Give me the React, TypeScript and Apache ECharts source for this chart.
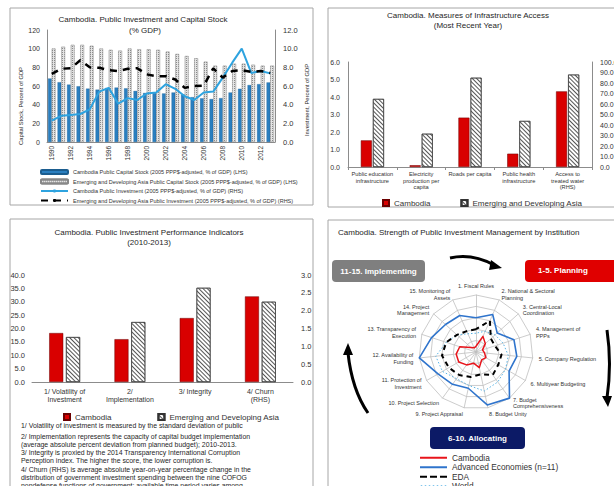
import { useEffect, useRef } from 'react';
import * as echarts from 'echarts';

const FONT = '"Liberation Sans", Arial, sans-serif';

// ---------- Panel 1: Public Investment and Capital Stock ----------
const years = ['1990', '1991', '1992', '1993', '1994', '1995', '1996', '1997', '1998', '1999', '2000', '2001',
  '2002', '2003', '2004', '2005', '2006', '2007', '2008', '2009', '2010', '2011', '2012', '2013'];
const cambodiaCapitalStock = [68.0, 64.0, 61.5, 59.7, 57.2, 56.1, 57.9, 58.3, 57.5, 54.7, 52.5, 52.5,
  52.0, 53.0, 51.0, 48.0, 46.8, 46.0, 47.0, 53.0, 57.0, 61.0, 62.0, 63.8];
const edaCapitalStock = [100, 102, 104, 104, 103, 100, 98.6, 97.8, 100, 99.3, 99.3, 98.6,
  96.8, 94.2, 92.0, 89.6, 86.0, 81.7, 81.7, 83.8, 83.8, 82.7, 81.7, 81.7];
const cambodiaInvestment = [2.3, 2.8, 2.9, 3.0, 3.5, 5.4, 5.8, 4.1, 4.7, 4.5, 5.2, 5.3,
  6.2, 5.7, 4.9, 4.5, 5.3, 5.4, 6.9, 8.5, 10.0, 7.4, 7.6, 7.35];
const edaInvestment = [7.3, 7.85, 7.9, 8.75, 8.0, 7.95, 7.7, 7.6, 7.85, 7.9, 7.25, 7.05,
  7.05, 6.7, 5.8, 6.0, 6.05, 7.9, 6.9, 7.6, 7.7, 7.5, 7.6, 7.4];
const panel1Legend = [
  'Cambodia Public Capital Stock (2005 PPP$-adjusted, % of GDP) (LHS)',
  'Emerging and Developing Asia Public Capital Stock (2005 PPP$-adjusted, % of GDP) (LHS)',
  'Cambodia Public Investment (2005 PPP$-adjusted, % of GDP) (RHS)',
  'Emerging and Developing Asia Public Investment (2005 PPP$-adjusted, % of GDP) (RHS)',
];

// ---------- Panel 2: Measures of Infrastructure Access ----------
const infraCategories = ['Public education\ninfrastructure', 'Electricity\nproduction per\ncapita', 'Roads per capita',
  'Public health\ninfrastructure', 'Access to\ntreated water\n(RHS)'];
const infraCambodiaLHS = [1.52, 0.1, 2.82, 0.76, null];
const infraEdaLHS = [3.89, 1.9, 5.1, 2.63, null];
const infraCambodiaRHS = [null, null, null, null, 72];
const infraEdaRHS = [null, null, null, null, 88];

// ---------- Panel 3: Public Investment Performance Indicators ----------
const perfCategories = ['1/ Volatility of\nInvestment', '2/\nImplementation', '3/ Integrity', '4/ Churn\n(RHS)'];
const perfCambodiaLHS = [18.3, 16.0, 23.9, null];
const perfEdaLHS = [16.8, 22.4, 35.2, null];
const perfCambodiaRHS = [null, null, null, 2.4];
const perfEdaRHS = [null, null, null, 2.25];
const perfNotes = [
  '1/ Volatility of investment is measured by the standard deviation of public',
  '2/ Implementation represents the capacity of capital budget implementation',
  '(average absolute percent deviation from planned budget); 2010-2013.',
  '3/ Integrity is proxied by the 2014 Transparency International Corruption',
  'Perception index. The higher the score, the lower corruption is.',
  '4/ Churn (RHS) is average absolute year-on-year percentage change in the',
  'distribution of government investment spending between the nine COFOG',
  'nondefense functions of government; available time period varies among',
];

// ---------- Panel 4: PIM strength by institution ----------
const pimaLabels = [
  '1. Fiscal Rules',
  '2. National & Sectoral\nPlanning',
  '3. Central-Local\nCoordination',
  '4. Management of\nPPPs',
  '5. Company Regulation',
  '6. Multiyear Budgeting',
  '7. Budget\nComprehensiveness',
  '8. Budget Unity',
  '9. Project Appraisal',
  '10. Project Selection',
  '11. Protection of\nInvestment',
  '12. Availability of\nFunding',
  '13. Transparency of\nExecution',
  '14. Project\nManagement',
  '15. Monitoring of\nAssets',
];
const pimaCambodia = [0.1, 0.3, 0.22, 0.12, 0.15, 0.2, 0.17, 0.28, 0.2, 0.28, 0.35, 0.35, 0.3, 0.12, 0.08];
const pimaAdvanced = [0.6, 0.72, 0.5, 0.7, 0.72, 0.67, 1.0, 0.95, 0.65, 0.7, 0.77, 1.0, 0.82, 0.72, 0.7];
const pimaEda = [0.4, 0.6, 0.35, 0.35, 0.45, 0.45, 0.5, 0.4, 0.45, 0.5, 0.55, 0.6, 0.55, 0.45, 0.4];
const pimaWorld = [0.33, 0.4, 0.45, 0.5, 0.57, 0.6, 0.65, 0.7, 0.6, 0.58, 0.68, 0.71, 0.55, 0.45, 0.35];
const pimaSeriesNames = ['Cambodia (PIMA)', 'Advanced Economies (n=11)', 'EDA', 'World'];
const pimaLegendText: Record<string, string> = { 'Cambodia (PIMA)': 'Cambodia' };

// ECharts radar runs counter-clockwise; the reference runs clockwise.
const ccw = <T,>(arr: T[]): T[] => [arr[0], ...arr.slice(1).reverse()];

const fmt1 = (v: number) => v.toFixed(1);

const hatchDiag = {
  symbol: 'rect', symbolSize: 1, color: '#555',
  dashArrayX: [1, 0], dashArrayY: [1, 1.3], rotation: Math.PI / 4,
};
const hatchDots = {
  symbol: 'rect', symbolSize: 1, color: '#8a8a8a',
  dashArrayX: [1, 1], dashArrayY: [1, 1], rotation: 0,
};

const redBar = { color: '#d90000', borderColor: '#6b0000', borderWidth: 0.5 };
const hatchBar = { color: '#ffffff', borderColor: '#333', borderWidth: 0.6, decal: hatchDiag };

const axisLineGray = { show: true, lineStyle: { color: '#8c8c8c', width: 1 } };
const labelGray = { color: '#333', fontFamily: FONT };

const txt = (x: number, y: number, text: string, size: number, opts: any = {}) => ({
  type: 'text', x, y, silent: true, rotation: opts.rotation || 0,
  style: {
    text, fontSize: size, fontFamily: FONT, fontWeight: opts.weight || 'normal',
    fill: opts.fill || '#262626',
    align: opts.align || 'left', textAlign: opts.align || 'left',
    verticalAlign: 'middle', textVerticalAlign: 'middle',
  },
});
const frame = (x: number, y: number, w: number, h: number) => ({
  type: 'rect', silent: true, z: -10,
  shape: { x, y, width: w, height: h },
  style: { fill: 'none', stroke: '#a6a6a6', lineWidth: 1 },
});
const box = (x: number, y: number, w: number, h: number, fill: string) => ({
  type: 'rect', silent: true,
  shape: { x, y, width: w, height: h, r: 4 },
  style: { fill, stroke: 'none' },
});
const arrowStroke = { stroke: '#000', lineWidth: 3, fill: 'none' };

const graphic: any[] = [
  frame(10, 8, 303, 197),
  frame(328, 8, 300, 199),
  frame(10, 219, 303, 280),
  frame(328, 220, 300, 280),
  // titles
  txt(143, 19, 'Cambodia. Public Investment and Capital Stock', 8, { align: 'center' }),
  txt(145, 30, '(% GDP)', 8, { align: 'center' }),
  txt(468, 15, 'Cambodia. Measures of Infrastructure Access', 8, { align: 'center' }),
  txt(468, 25, '(Most Recent Year)', 8, { align: 'center' }),
  txt(149, 232, 'Cambodia. Public Investment Performance Indicators', 8, { align: 'center' }),
  txt(149, 242, '(2010-2013)', 8, { align: 'center' }),
  txt(338, 232, 'Cambodia. Strength of Public Investment Management by Institution', 8),
  // axis names panel 1
  txt(21, 106, 'Capital Stock, Percent of GDP', 5.8, { align: 'center', rotation: Math.PI / 2 }),
  txt(307, 100, 'Investment, Percent of GDP', 5.8, { align: 'center', rotation: Math.PI / 2 }),
  // notes panel 3
  ...perfNotes.map((t, i) => txt(21, [425, 436, 444, 452, 460, 469, 477, 485][i], t, 6.9)),
  // PIM process boxes
  box(332, 260, 93, 22, '#7f7f7f'),
  txt(378.5, 271, '11-15. Implementing', 8, { align: 'center', weight: 'bold', fill: '#fff' }),
  box(525, 260, 110, 22, '#e00000'),
  txt(563, 270, '1-5. Planning', 8, { align: 'center', weight: 'bold', fill: '#fff' }),
  box(430, 427, 95, 22, '#0c1a66'),
  txt(477.5, 438, '6-10. Allocating', 8, { align: 'center', weight: 'bold', fill: '#fff' }),
  // arrows
  { type: 'bezierCurve', silent: true, shape: { x1: 450, y1: 258, x2: 494, y2: 265, cpx1: 472, cpy1: 253 }, style: arrowStroke },
  { type: 'polygon', silent: true, shape: { points: [[491, 260], [502, 268], [489, 270]] }, style: { fill: '#000' } },
  { type: 'bezierCurve', silent: true, shape: { x1: 607, y1: 330, x2: 607, y2: 398, cpx1: 612, cpy1: 364 }, style: arrowStroke },
  { type: 'polygon', silent: true, shape: { points: [[602, 396], [608, 407], [612, 396]] }, style: { fill: '#000' } },
  { type: 'bezierCurve', silent: true, shape: { x1: 368, y1: 413, x2: 348, y2: 353, cpx1: 352, cpy1: 390 }, style: arrowStroke },
  { type: 'polygon', silent: true, shape: { points: [[343, 355], [348, 343], [353, 355]] }, style: { fill: '#000' } },
];

const option: any = {
  animation: false,
  backgroundColor: '#fff',
  textStyle: { fontFamily: FONT },
  graphic,
  grid: [
    { left: 47, top: 30, width: 228, height: 112, outerBoundsMode: 'none' },
    { left: 348, top: 62, width: 244, height: 105, outerBoundsMode: 'none' },
    { left: 32, top: 275, width: 261, height: 107, outerBoundsMode: 'none' },
  ],
  xAxis: [
    {
      gridIndex: 0, type: 'category', data: years,
      axisLine: axisLineGray, axisTick: { show: false },
      axisLabel: { ...labelGray, rotate: 90, interval: 1, fontSize: 6.5, margin: 4 },
    },
    {
      gridIndex: 1, type: 'category', data: infraCategories,
      axisLine: axisLineGray, axisTick: { show: true, length: 3, lineStyle: { color: '#8c8c8c' } },
      axisLabel: { ...labelGray, interval: 0, fontSize: 5.7, lineHeight: 6.5, margin: 4 },
    },
    {
      gridIndex: 2, type: 'category', data: perfCategories,
      axisLine: axisLineGray, axisTick: { show: false },
      axisLabel: { ...labelGray, interval: 0, fontSize: 7, lineHeight: 8.5, margin: 5 },
    },
  ],
  yAxis: [
    {
      gridIndex: 0, type: 'value', min: 0, max: 120, interval: 20,
      axisLine: axisLineGray, splitLine: { show: false },
      axisLabel: { ...labelGray, fontSize: 7, margin: 7 },
    },
    {
      gridIndex: 0, type: 'value', position: 'right', min: 0, max: 12, interval: 2,
      axisLine: axisLineGray, splitLine: { show: false },
      axisLabel: { ...labelGray, fontSize: 7.5, margin: 8, formatter: fmt1 },
    },
    {
      gridIndex: 1, type: 'value', min: 0, max: 6, interval: 1,
      axisLine: axisLineGray, splitLine: { show: false },
      axisLabel: { ...labelGray, fontSize: 7, margin: 8, formatter: fmt1 },
    },
    {
      gridIndex: 1, type: 'value', position: 'right', min: 0, max: 100, interval: 10,
      axisLine: axisLineGray, splitLine: { show: false },
      axisLabel: { ...labelGray, fontSize: 7, margin: 8, formatter: fmt1 },
    },
    {
      gridIndex: 2, type: 'value', min: 0, max: 40, interval: 5,
      axisLine: { show: false }, splitLine: { show: false },
      axisLabel: { ...labelGray, fontSize: 7.5, margin: 7, formatter: fmt1 },
    },
    {
      gridIndex: 2, type: 'value', position: 'right', min: 0, max: 3, interval: 0.5,
      axisLine: { show: false }, splitLine: { show: false },
      axisLabel: { ...labelGray, fontSize: 7.5, margin: 8, formatter: fmt1 },
    },
  ],
  radar: {
    center: [476, 352],
    radius: 57,
    startAngle: 90,
    splitNumber: 5,
    shape: 'polygon',
    nameGap: 6,
    indicator: ccw(pimaLabels).map((name) => ({ name, max: 1 })),
    axisName: { color: '#333', fontSize: 5.5, fontFamily: FONT, lineHeight: 6.5 },
    splitLine: { lineStyle: { color: '#bfbfbf', width: 0.8 } },
    splitArea: { show: false },
    axisLine: { lineStyle: { color: '#bfbfbf', width: 0.8 } },
    axisTick: { show: false },
    axisLabel: { show: false },
  },
  legend: [
    {
      orient: 'vertical', left: 35, top: 164, itemWidth: 27, itemHeight: 4, itemGap: 3.5,
      data: panel1Legend, textStyle: { fontSize: 5.5, color: '#333', fontFamily: FONT },
    },
    {
      orient: 'horizontal', left: 377, top: 194, itemWidth: 6, itemHeight: 6, itemGap: 30, icon: 'rect',
      data: ['Cambodia', 'Emerging and Developing Asia'],
      textStyle: { fontSize: 8, color: '#333', fontFamily: FONT },
    },
    {
      orient: 'horizontal', left: 58, top: 408, itemWidth: 6, itemHeight: 6, itemGap: 46, icon: 'rect',
      data: ['Cambodia', 'Emerging and Developing Asia'],
      textStyle: { fontSize: 8, color: '#333', fontFamily: FONT },
    },
    {
      orient: 'vertical', left: 415, top: 448, width: 200, height: 80, itemWidth: 27, itemHeight: 2, itemGap: 0,
      data: [
        { name: pimaSeriesNames[0], icon: 'rect' },
        { name: pimaSeriesNames[1], icon: 'rect' },
        { name: pimaSeriesNames[2], icon: 'path://M0,0H7V2H0Z M10,0H17V2H10Z M20,0H27V2H20Z' },
        { name: pimaSeriesNames[3], icon: 'path://M0,0H1.5V2H0Z M4,0H5.5V2H4Z M8,0H9.5V2H8Z M12,0H13.5V2H12Z M16,0H17.5V2H16Z M20,0H21.5V2H20Z M24,0H25.5V2H24Z' },
      ],
      formatter: (name: string) => pimaLegendText[name] || name,
      textStyle: { fontSize: 8.3, color: '#333', fontFamily: FONT, lineHeight: 9.5, height: 9.5 },
    },
  ],
  series: [
    // Panel 1
    {
      name: panel1Legend[0], type: 'bar', xAxisIndex: 0, yAxisIndex: 0, data: cambodiaCapitalStock,
      barCategoryGap: '22%', barGap: '5%',
      itemStyle: { color: '#2a7fc0', borderColor: '#1b5d8f', borderWidth: 0.3 },
    },
    {
      name: panel1Legend[1], type: 'bar', xAxisIndex: 0, yAxisIndex: 0, data: edaCapitalStock,
      barCategoryGap: '22%', barGap: '5%',
      itemStyle: { color: '#e4e4e4', borderColor: '#888', borderWidth: 0.3, decal: hatchDots },
    },
    {
      name: panel1Legend[2], type: 'line', xAxisIndex: 0, yAxisIndex: 1, data: cambodiaInvestment,
      symbol: 'none', lineStyle: { color: '#2ea3df', width: 2 }, itemStyle: { color: '#2ea3df' },
    },
    {
      name: panel1Legend[3], type: 'line', xAxisIndex: 0, yAxisIndex: 1, data: edaInvestment,
      symbol: 'none', lineStyle: { color: '#000', width: 2.5, type: [7, 6] }, itemStyle: { color: '#000' },
    },
    // Panel 2
    { name: 'Cambodia', type: 'bar', xAxisIndex: 1, yAxisIndex: 2, stack: 'infraCam', data: infraCambodiaLHS, barWidth: 11, barGap: '10%', itemStyle: redBar },
    { name: 'Emerging and Developing Asia', type: 'bar', xAxisIndex: 1, yAxisIndex: 2, stack: 'infraEda', data: infraEdaLHS, barWidth: 11, barGap: '10%', itemStyle: hatchBar },
    { name: 'Cambodia', type: 'bar', xAxisIndex: 1, yAxisIndex: 3, stack: 'infraCam', data: infraCambodiaRHS, barWidth: 11, barGap: '10%', itemStyle: redBar },
    { name: 'Emerging and Developing Asia', type: 'bar', xAxisIndex: 1, yAxisIndex: 3, stack: 'infraEda', data: infraEdaRHS, barWidth: 11, barGap: '10%', itemStyle: hatchBar },
    // Panel 3
    { name: 'Cambodia', type: 'bar', xAxisIndex: 2, yAxisIndex: 4, stack: 'perfCam', data: perfCambodiaLHS, barWidth: 14, barGap: '20%', itemStyle: redBar },
    { name: 'Emerging and Developing Asia', type: 'bar', xAxisIndex: 2, yAxisIndex: 4, stack: 'perfEda', data: perfEdaLHS, barWidth: 14, barGap: '20%', itemStyle: hatchBar },
    { name: 'Cambodia', type: 'bar', xAxisIndex: 2, yAxisIndex: 5, stack: 'perfCam', data: perfCambodiaRHS, barWidth: 14, barGap: '20%', itemStyle: redBar },
    { name: 'Emerging and Developing Asia', type: 'bar', xAxisIndex: 2, yAxisIndex: 5, stack: 'perfEda', data: perfEdaRHS, barWidth: 14, barGap: '20%', itemStyle: hatchBar },
    // Panel 4
    {
      name: pimaSeriesNames[3], type: 'radar', symbol: 'none',
      data: [{ name: pimaSeriesNames[3], value: ccw(pimaWorld) }],
      itemStyle: { color: '#5ab4e6' }, lineStyle: { color: '#5ab4e6', width: 1, type: [1.5, 2] },
    },
    {
      name: pimaSeriesNames[2], type: 'radar', symbol: 'none',
      data: [{ name: pimaSeriesNames[2], value: ccw(pimaEda) }],
      itemStyle: { color: '#000' }, lineStyle: { color: '#000', width: 2, type: [5, 4] },
    },
    {
      name: pimaSeriesNames[1], type: 'radar', symbol: 'none',
      data: [{ name: pimaSeriesNames[1], value: ccw(pimaAdvanced) }],
      itemStyle: { color: '#2f74cc' }, lineStyle: { color: '#2f74cc', width: 1.6 },
    },
    {
      name: pimaSeriesNames[0], type: 'radar', symbol: 'none',
      data: [{ name: pimaSeriesNames[0], value: ccw(pimaCambodia) }],
      itemStyle: { color: '#e8141b' }, lineStyle: { color: '#e8141b', width: 1.5 },
    },
  ],
};

export default function App() {
  const ref = useRef<HTMLDivElement>(null);
  useEffect(() => {
    if (!ref.current) return;
    const chart = echarts.init(ref.current, null, { renderer: 'svg' });
    chart.setOption(option);
    return () => chart.dispose();
  }, []);
  return (
    <div
      ref={ref}
      style={{ position: 'fixed', left: 0, top: 0, width: 614, height: 486, background: '#fff' }}
    />
  );
}
